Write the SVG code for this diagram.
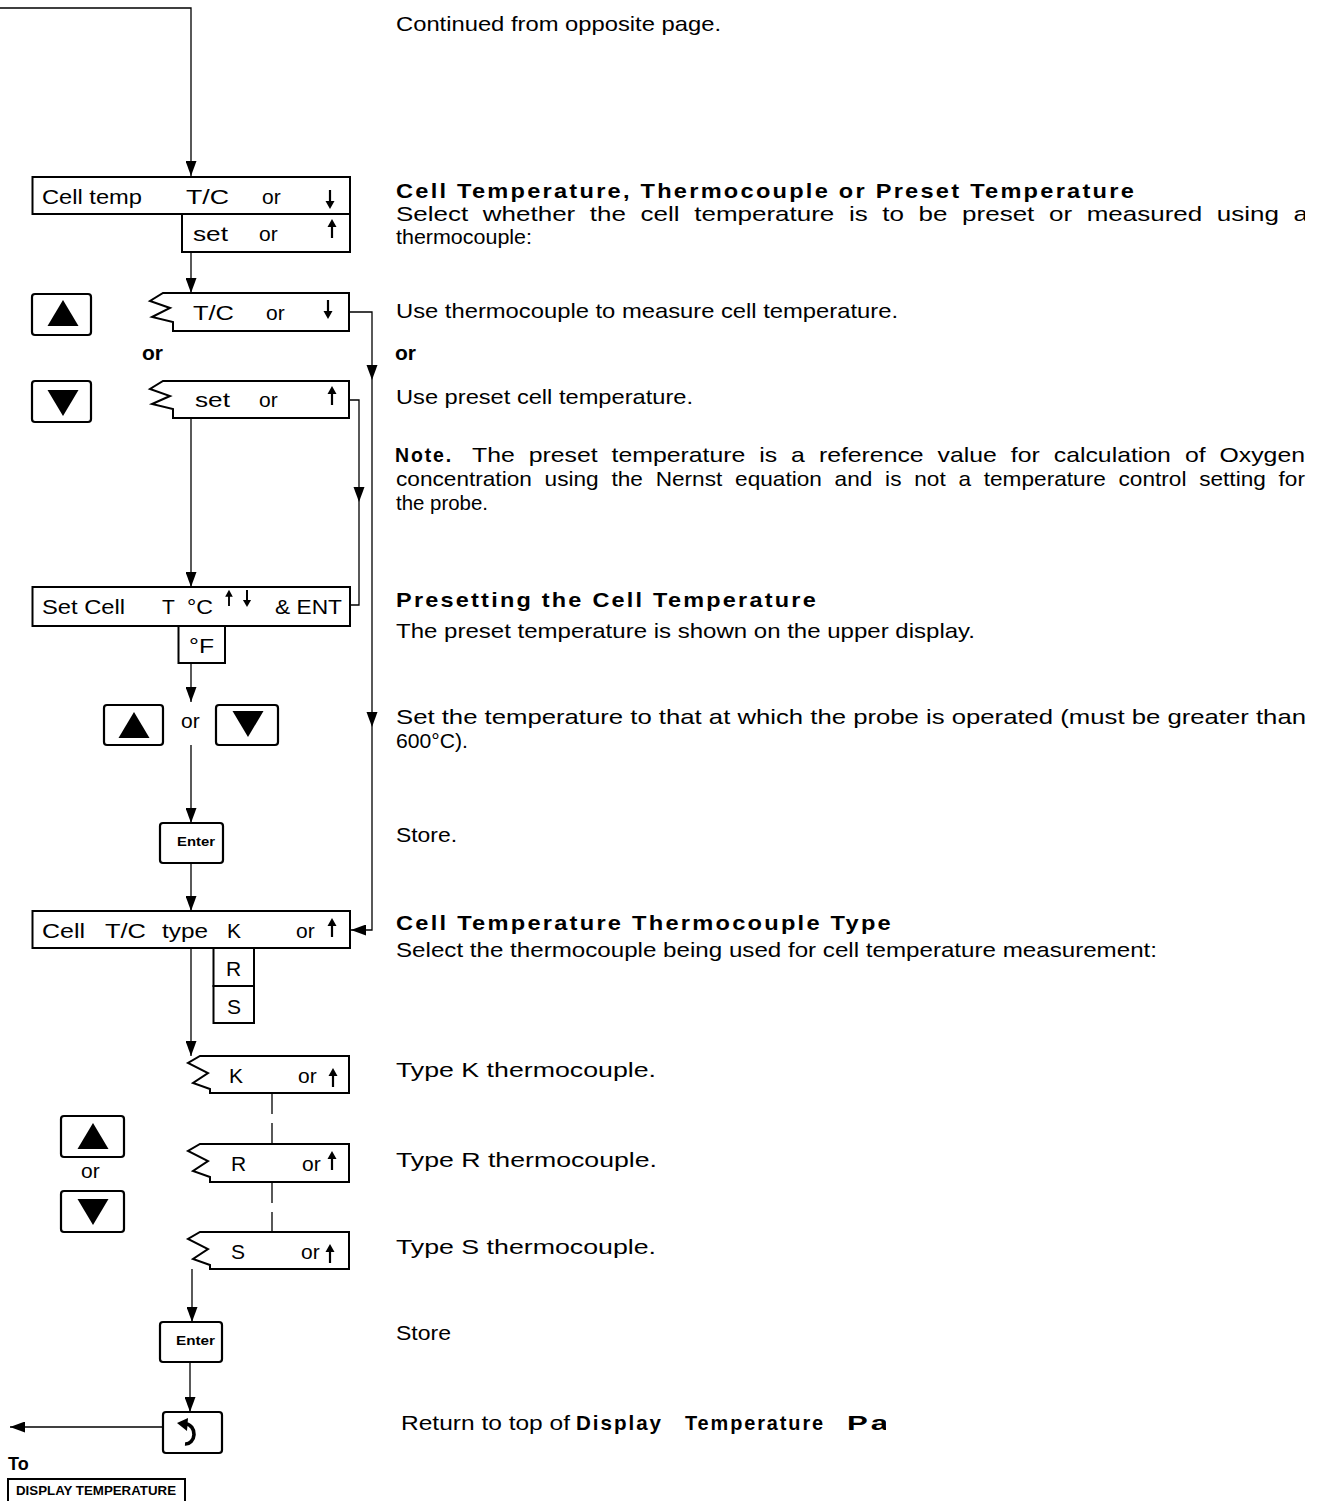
<svg xmlns="http://www.w3.org/2000/svg" xmlns:xlink="http://www.w3.org/1999/xlink" width="1323" height="1501" viewBox="0 0 1323 1501">
  <style>
    .t { font-family: "Liberation Sans", Arial, sans-serif; font-size: 21px; fill: #000; }
    .b { font-weight: bold; }
    .h { font-weight: bold; letter-spacing: 2px; }
    .j { word-spacing: 6px; }
    .sm { font-size: 13.5px; font-weight: bold; }
    .to { font-size: 18px; font-weight: bold; }
    .tag { font-size: 12px; font-weight: bold; }
    .box { fill: #fff; stroke: #000; stroke-width: 2; }
    .btn { fill: #fff; stroke: #000; stroke-width: 2.2; }
    .ln { fill: none; stroke: #000; stroke-width: 1.3; }
    .dash { fill: none; stroke: #000; stroke-width: 1.3; stroke-dasharray: 20 9; }
  </style>
  <defs>
    <marker id="ah" markerUnits="userSpaceOnUse" markerWidth="15" markerHeight="11" refX="15" refY="5.5" orient="auto">
      <path d="M0,0 L15,5.5 L0,11 Z" fill="#000"/>
    </marker>
    <path id="ahDown" d="M-5.5,-15 L5.5,-15 L0,0 Z" fill="#000"/>
    <path id="triUp" d="M0,-13 L15.5,13 L-15.5,13 Z" fill="#000"/>
    <path id="triDown" d="M0,13 L15.5,-13 L-15.5,-13 Z" fill="#000"/>
    <!-- display scroll arrows -->
    <g id="aUp">
      <path d="M0,0 V-12" stroke="#000" stroke-width="2.2"/>
      <path d="M-4.5,-11 L0,-19 L4.5,-11 Z" fill="#000"/>
    </g>
    <g id="aDown">
      <path d="M0,0 V12" stroke="#000" stroke-width="2.2"/>
      <path d="M-4.5,11 L0,19 L4.5,11 Z" fill="#000"/>
    </g>
    <clipPath id="colClip"><rect x="0" y="0" width="1305" height="1501"/></clipPath>
    <clipPath id="retClip"><rect x="380" y="1400" width="506" height="60"/></clipPath>
  </defs>

  <!-- connectors -->
  <g id="connectors">
    <path class="ln" d="M0,8 H191 V176" marker-end="url(#ah)"/>
    <path class="ln" d="M191,252 V293" marker-end="url(#ah)"/>
    <path class="ln" d="M349,312 H372 V930 H351" marker-end="url(#ah)"/>
    <use xlink:href="#ahDown" transform="translate(372,380)"/>
    <use xlink:href="#ahDown" transform="translate(372,727)"/>
    <path class="ln" d="M349,400 H359 V605 H350"/>
    <use xlink:href="#ahDown" transform="translate(359,502)"/>
    <path class="ln" d="M191,418 V587" marker-end="url(#ah)"/>
    <path class="ln" d="M191,663 V702" marker-end="url(#ah)"/>
    <path class="ln" d="M191,745 V823" marker-end="url(#ah)"/>
    <path class="ln" d="M191,863 V911" marker-end="url(#ah)"/>
    <path class="ln" d="M191,948 V1056" marker-end="url(#ah)"/>
    <path class="dash" d="M272,1094 V1144"/>
    <path class="dash" d="M272,1183 V1232"/>
    <path class="ln" d="M192,1269 V1322" marker-end="url(#ah)"/>
    <path class="ln" d="M190,1362 V1412" marker-end="url(#ah)"/>
    <path class="ln" d="M163,1427 H10" marker-end="url(#ah)"/>
  </g>

  <!-- menu: cell temp -->
  <g id="cell-temp">
    <rect class="box" x="32.5" y="177" width="317.5" height="37"/>
    <rect class="box" x="182" y="214" width="168" height="38"/>
    <text class="t" x="42" y="204" textLength="100" lengthAdjust="spacingAndGlyphs">Cell temp</text>
    <text class="t" x="186" y="204" textLength="43" lengthAdjust="spacingAndGlyphs">T/C</text>
    <text class="t" x="262" y="204">or</text>
    <use xlink:href="#aDown" transform="translate(330,190)"/>
    <text class="t" x="193" y="241" textLength="35" lengthAdjust="spacingAndGlyphs">set</text>
    <text class="t" x="259" y="241">or</text>
    <use xlink:href="#aUp" transform="translate(332,238)"/>
  </g>

  <!-- key: up -->
  <g id="key-up-1">
    <rect class="btn" x="32" y="294" width="59" height="41" rx="3"/>
    <use xlink:href="#triUp" transform="translate(63,313)"/>
  </g>
  <text class="t b" x="142" y="360">or</text>
  <g id="key-down-1">
    <rect class="btn" x="32" y="381" width="59" height="41" rx="3"/>
    <use xlink:href="#triDown" transform="translate(63,403)"/>
  </g>

  <!-- option: T/C -->
  <g id="opt-tc">
    <path class="box" d="M163,293 L349,293 L349,331 L173,331 L173,322 L152,317 L170,308 L150,301 Z"/>
    <text class="t" x="193" y="320" textLength="41" lengthAdjust="spacingAndGlyphs">T/C</text>
    <text class="t" x="266" y="320">or</text>
    <use xlink:href="#aDown" transform="translate(328,300)"/>
  </g>

  <!-- option: set -->
  <g id="opt-set">
    <path class="box" d="M163,381 L349,381 L349,418 L173,418 L173,409 L152,404 L170,396 L150,389 Z"/>
    <text class="t" x="195" y="407" textLength="35" lengthAdjust="spacingAndGlyphs">set</text>
    <text class="t" x="259" y="407">or</text>
    <use xlink:href="#aUp" transform="translate(332,405)"/>
  </g>

  <!-- set cell temperature -->
  <g id="set-cell">
    <rect class="box" x="32.5" y="587" width="317.5" height="39"/>
    <rect class="box" x="178.5" y="626" width="46.5" height="37"/>
    <text class="t" x="42" y="614" textLength="83" lengthAdjust="spacingAndGlyphs">Set Cell</text>
    <text class="t" x="162" y="614">T</text>
    <text class="t" x="187" y="614" textLength="26" lengthAdjust="spacingAndGlyphs">°C</text>
    <use xlink:href="#aUp" transform="translate(229,606) scale(0.85)"/>
    <use xlink:href="#aDown" transform="translate(247,590) scale(0.9)"/>
    <text class="t" x="275" y="614" textLength="67" lengthAdjust="spacingAndGlyphs">&amp; ENT</text>
    <text class="t" x="189" y="653" textLength="25" lengthAdjust="spacingAndGlyphs">°F</text>
  </g>

  <g id="key-up-2">
    <rect class="btn" x="104" y="705" width="59" height="40" rx="3"/>
    <use xlink:href="#triUp" transform="translate(134,725)"/>
  </g>
  <text class="t" x="181" y="728">or</text>
  <g id="key-down-2">
    <rect class="btn" x="216" y="705" width="62" height="40" rx="3"/>
    <use xlink:href="#triDown" transform="translate(248,724)"/>
  </g>

  <g id="key-enter-1">
    <rect class="btn" x="160" y="823" width="63" height="40" rx="3"/>
    <text class="t sm" x="177" y="846" textLength="38" lengthAdjust="spacingAndGlyphs">Enter</text>
  </g>

  <!-- menu: thermocouple type -->
  <g id="tc-type">
    <rect class="box" x="32.5" y="911" width="317.5" height="37"/>
    <rect class="box" x="213.5" y="948" width="40.5" height="38"/>
    <rect class="box" x="213.5" y="986" width="40.5" height="37"/>
    <text class="t" x="42" y="938" textLength="43" lengthAdjust="spacingAndGlyphs">Cell</text>
    <text class="t" x="105" y="938" textLength="41" lengthAdjust="spacingAndGlyphs">T/C</text>
    <text class="t" x="162" y="938" textLength="46" lengthAdjust="spacingAndGlyphs">type</text>
    <text class="t" x="227" y="938">K</text>
    <text class="t" x="296" y="938">or</text>
    <use xlink:href="#aUp" transform="translate(332,937)"/>
    <text class="t" x="226" y="976">R</text>
    <text class="t" x="227" y="1014">S</text>
  </g>

  <g id="opt-k">
    <path class="box" d="M200,1056 L349,1056 L349,1093 L210,1093 L210,1089 L193,1083 L208,1073 L188,1063 Z"/>
    <text class="t" x="229" y="1083">K</text>
    <text class="t" x="298" y="1083">or</text>
    <use xlink:href="#aUp" transform="translate(333,1087)"/>
  </g>
  <g id="opt-r">
    <path class="box" d="M200,1144 L349,1144 L349,1182 L210,1182 L210,1177 L193,1171 L208,1161 L188,1151 Z"/>
    <text class="t" x="231" y="1171">R</text>
    <text class="t" x="302" y="1171">or</text>
    <use xlink:href="#aUp" transform="translate(332,1170)"/>
  </g>
  <g id="opt-s">
    <path class="box" d="M200,1232 L349,1232 L349,1269 L210,1269 L210,1265 L193,1259 L208,1249 L188,1239 Z"/>
    <text class="t" x="231" y="1259">S</text>
    <text class="t" x="301" y="1259">or</text>
    <use xlink:href="#aUp" transform="translate(330,1263)"/>
  </g>

  <g id="key-up-3">
    <rect class="btn" x="61" y="1116" width="63" height="41" rx="3"/>
    <use xlink:href="#triUp" transform="translate(93,1136)"/>
  </g>
  <text class="t" x="81" y="1178">or</text>
  <g id="key-down-3">
    <rect class="btn" x="61" y="1191" width="63" height="41" rx="3"/>
    <use xlink:href="#triDown" transform="translate(93,1212)"/>
  </g>

  <g id="key-enter-2">
    <rect class="btn" x="160" y="1322" width="62" height="40" rx="3"/>
    <text class="t sm" x="176" y="1345" textLength="39" lengthAdjust="spacingAndGlyphs">Enter</text>
  </g>

  <!-- return key with circular arrow symbol -->
  <g id="key-return">
    <rect class="btn" x="163" y="1412" width="59" height="41" rx="3"/>
    <path d="M186,1424 A8.5,10 0 1 1 185,1444" fill="none" stroke="#000" stroke-width="3.6"/>
    <path d="M177,1423 L188,1418 L187,1431 Z" fill="#000"/>
  </g>

  <g id="exit-display-temperature">
    <text class="t to" x="8" y="1470">To</text>
    <rect x="8" y="1479" width="177" height="40" fill="#fff" stroke="#000" stroke-width="2"/>
    <text class="t tag" x="16" y="1495" textLength="160" lengthAdjust="spacingAndGlyphs">DISPLAY TEMPERATURE</text>
  </g>

  <!-- explanatory column -->
  <g id="notes">
    <text class="t" x="396" y="31" textLength="325" lengthAdjust="spacingAndGlyphs">Continued from opposite page.</text>

    <text class="t h" x="396" y="198" textLength="740" lengthAdjust="spacingAndGlyphs">Cell Temperature, Thermocouple or Preset Temperature</text>
    <text class="t j" x="396" y="221" textLength="912" lengthAdjust="spacingAndGlyphs" clip-path="url(#colClip)">Select whether the cell temperature is to be preset or measured using a</text>
    <text class="t" x="396" y="244" textLength="136" lengthAdjust="spacingAndGlyphs">thermocouple:</text>

    <text class="t" x="396" y="318" textLength="502" lengthAdjust="spacingAndGlyphs">Use thermocouple to measure cell temperature.</text>
    <text class="t b" x="395" y="360">or</text>
    <text class="t" x="396" y="404" textLength="297" lengthAdjust="spacingAndGlyphs">Use preset cell temperature.</text>

    <text class="t h" x="395" y="462" textLength="58" lengthAdjust="spacingAndGlyphs">Note.</text>
    <text class="t j" x="472" y="462" textLength="833" lengthAdjust="spacingAndGlyphs">The preset temperature is a reference value  for calculation of Oxygen</text>
    <text class="t j" x="396" y="486" textLength="909" lengthAdjust="spacingAndGlyphs">concentration using the Nernst equation and is not a temperature control  setting for</text>
    <text class="t" x="396" y="510" textLength="92" lengthAdjust="spacingAndGlyphs">the probe.</text>

    <text class="t h" x="396" y="607" textLength="422" lengthAdjust="spacingAndGlyphs">Presetting the Cell Temperature</text>
    <text class="t" x="396" y="638" textLength="579" lengthAdjust="spacingAndGlyphs">The preset temperature is shown on the upper  display.</text>

    <text class="t" x="396" y="724" textLength="910" lengthAdjust="spacingAndGlyphs">Set the temperature to that at which the probe is operated (must be greater than</text>
    <text class="t" x="396" y="748" textLength="72" lengthAdjust="spacingAndGlyphs">600°C).</text>

    <text class="t" x="396" y="842" textLength="61" lengthAdjust="spacingAndGlyphs">Store.</text>

    <text class="t h" x="396" y="930" textLength="497" lengthAdjust="spacingAndGlyphs">Cell Temperature Thermocouple Type</text>
    <text class="t" x="396" y="957" textLength="761" lengthAdjust="spacingAndGlyphs">Select the thermocouple being used for cell  temperature measurement:</text>

    <text class="t" x="396" y="1077" textLength="260" lengthAdjust="spacingAndGlyphs">Type K thermocouple.</text>
    <text class="t" x="396" y="1167" textLength="261" lengthAdjust="spacingAndGlyphs">Type R thermocouple.</text>
    <text class="t" x="396" y="1254" textLength="260" lengthAdjust="spacingAndGlyphs">Type S thermocouple.</text>
    <text class="t" x="396" y="1340" textLength="55" lengthAdjust="spacingAndGlyphs">Store</text>

    <g clip-path="url(#retClip)">
      <text class="t" x="401" y="1430" textLength="169" lengthAdjust="spacingAndGlyphs">Return to top of</text>
      <text class="t h" x="576" y="1430" textLength="87" lengthAdjust="spacingAndGlyphs">Display</text>
      <text class="t h" x="685" y="1430" textLength="140" lengthAdjust="spacingAndGlyphs">Temperature</text>
      <text class="t h" x="847" y="1430" textLength="44" lengthAdjust="spacingAndGlyphs">Pa</text>
    </g>
  </g>
</svg>
